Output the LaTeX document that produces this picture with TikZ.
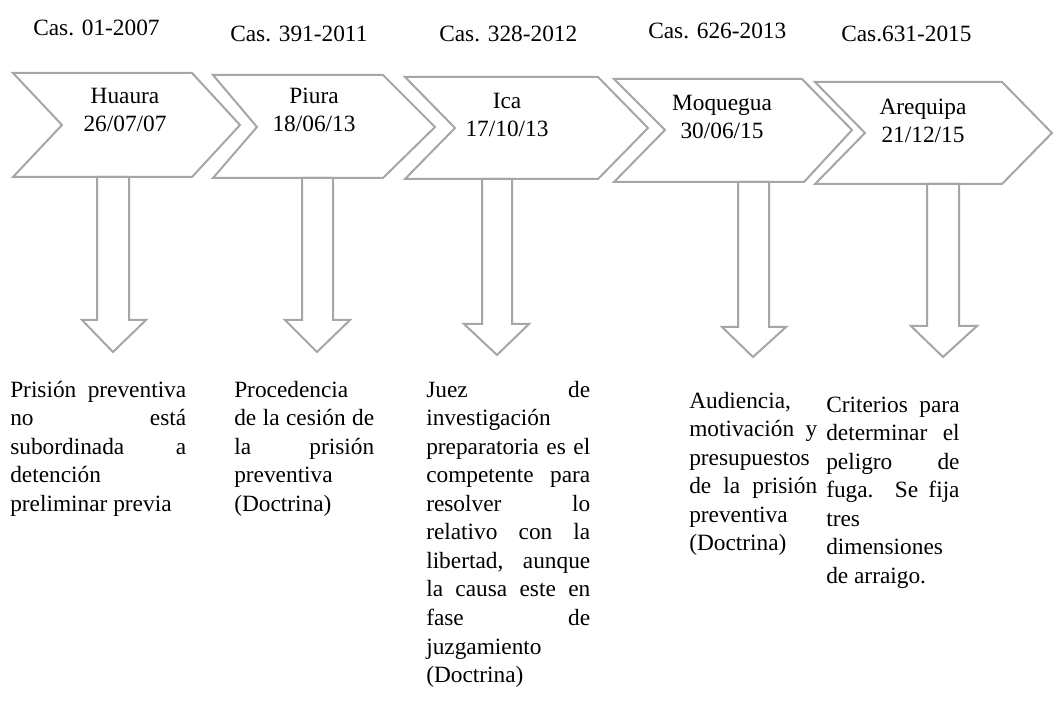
\documentclass[tikz,border=0pt]{standalone}
\usepackage{fontspec}
\setmainfont{Liberation Serif}
\hyphenpenalty=10000
\exhyphenpenalty=10000
\begin{document}
\begin{tikzpicture}[x=0.75pt,y=-0.75pt,
  shp/.style={draw=black!35, line width=1.5pt, fill=white, line join=miter},
  lbl/.style={font=\fontsize{17.5}{21}\selectfont, inner sep=0, align=center},
  cas/.style={font=\fontsize{17.5}{21}\selectfont, inner sep=0, anchor=west},
  body/.style={font=\fontsize{17.5}{21.4}\selectfont, inner sep=0, anchor=north west, align=justify}
]
\useasboundingbox (0,0) rectangle (1054,702);
% top case labels
\node[cas] (k1) at (33,28) {Cas. 01-2007};
\node[cas] (k2) at (230,34) {Cas. 391-2011};
\node[cas] (k3) at (439,34) {Cas. 328-2012};
\node[cas] (k4) at (648,31) {Cas. 626-2013};
\node[cas] (k5) at (841,34) {Cas.631-2015};
% chevrons
\draw[shp] (13,73) -- (192,73) -- (240,125) -- (192,177) -- (13,177) -- (62,125) -- cycle;
\draw[shp] (213,75) -- (383,75) -- (435,127) -- (383,178) -- (213,178) -- (257,127) -- cycle;
\draw[shp] (405,77) -- (598,77) -- (648,128) -- (598,179) -- (405,179) -- (455,128) -- cycle;
\draw[shp] (614,79) -- (802,79) -- (852,130) -- (804,182) -- (614,182) -- (665,130) -- cycle;
\draw[shp] (815,82) -- (1002,82) -- (1052,133) -- (1002,184) -- (815,184) -- (865,133) -- cycle;
% chevron texts
\node[lbl] (c1) at (125,110) {Huaura\\26/07/07};
\node[lbl] (c2) at (314,110) {Piura\\18/06/13};
\node[lbl] (c3) at (507,115) {Ica\\17/10/13};
\node[lbl] (c4) at (722,117) {Moquegua\\30/06/15};
\node[lbl] (c5) at (923,121) {Arequipa\\21/12/15};
% down arrows
\draw[shp] (97,177) -- (129,177) -- (129,320) -- (146,320) -- (113,352) -- (82,320) -- (97,320) -- cycle;
\draw[shp] (302,178) -- (333,178) -- (333,320) -- (350,320) -- (317,352) -- (285,320) -- (302,320) -- cycle;
\draw[shp] (482,179) -- (512,179) -- (512,324) -- (529,324) -- (497,355) -- (464,324) -- (482,324) -- cycle;
\draw[shp] (738,182) -- (769,182) -- (769,327) -- (786,327) -- (753,357) -- (722,327) -- (738,327) -- cycle;
\draw[shp] (927,184) -- (959,184) -- (959,326) -- (977,326) -- (943,357) -- (911,326) -- (927,326) -- cycle;
% description texts
\node[body, text width=132pt] (t1) at (10,377) {\strut Prisión preventiva\linebreak no está\linebreak subordinada a\linebreak detención\linebreak preliminar previa};
\node[body, text width=105pt] (t2) at (234,377) {\strut Procedencia\linebreak de la cesión de\linebreak la prisión\linebreak preventiva\linebreak (Doctrina)};
\node[body, text width=123pt] (t3) at (426,377) {\strut Juez de\linebreak investigación\linebreak preparatoria es el\linebreak competente para\linebreak resolver lo\linebreak relativo con la\linebreak libertad, aunque\linebreak la causa este en\linebreak fase de\linebreak juzgamiento\linebreak (Doctrina)};
\node[body, text width=96pt] (t4) at (689,388) {\strut Audiencia,\linebreak motivación y\linebreak presupuestos\linebreak de la prisión\linebreak preventiva\linebreak (Doctrina)};
\node[body, text width=100pt] (t5) at (826,392) {\strut Criterios para\linebreak determinar el\linebreak peligro de\linebreak fuga. Se fija\linebreak tres\linebreak dimensiones\linebreak de arraigo.};
\end{tikzpicture}
\end{document}
